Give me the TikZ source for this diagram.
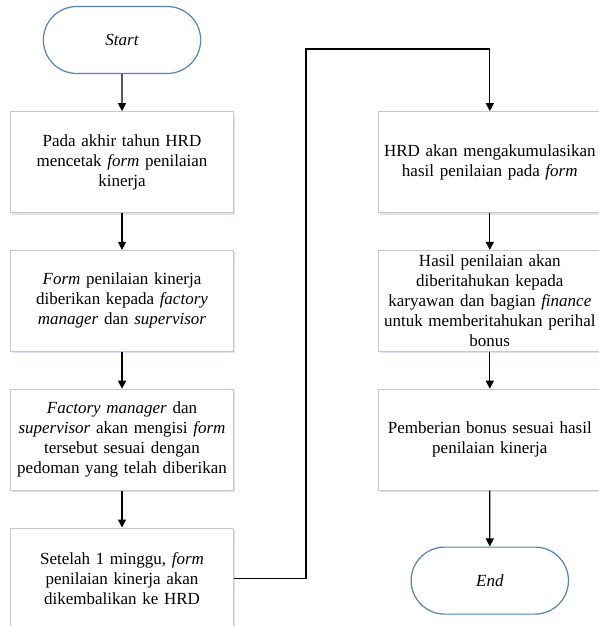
\documentclass[tikz,border=0pt]{standalone}
\usepackage{fontspec}
\setmainfont{Liberation Serif}
\usetikzlibrary{positioning, shapes.misc, arrows.meta, shadows}

\definecolor{termblue}{RGB}{84,130,185}
\definecolor{boxgray}{RGB}{200,200,200}
\definecolor{shadeblue}{RGB}{218,228,242}

\begin{document}
\begin{tikzpicture}[node distance=37pt, >={Triangle[length=8pt,width=8pt]}, line width=1.2pt]

        % Styles
        \tikzstyle{langkah}=[rectangle, draw=boxgray, line width=0.8pt, fill=white, align=center, text width=215pt, minimum width=223pt, minimum height=101pt, inner sep=0pt, font=\fontsize{17}{20}\selectfont, drop shadow={shadow xshift=1.5pt, shadow yshift=-2pt, fill=shadeblue, opacity=1}]
        \tikzstyle{terminal}=[rounded rectangle, draw=termblue, line width=1.2pt, fill=white, minimum width=164pt, minimum height=67pt, font=\fontsize{17}{20}\selectfont\itshape]

        \useasboundingbox (0,0) rectangle (599pt,-626pt);

        % Kolom kiri
        \node[terminal] (start) at (122pt,-40pt) {Start};
        \node[langkah, below=of start] (cetak) {Pada akhir tahun HRD\\ mencetak \emph{form} penilaian\\ kinerja};
        \node[langkah, below=of cetak] (beri) {\emph{Form} penilaian kinerja\\ diberikan kepada \emph{factory}\\ \emph{manager} dan \emph{supervisor}};
        \node[langkah, below=of beri] (isi) {\emph{Factory manager} dan\\ \emph{supervisor} akan mengisi \emph{form}\\ tersebut sesuai dengan\\ pedoman yang telah diberikan};
        \node[langkah, below=of isi] (kembali) {Setelah 1 minggu, \emph{form}\\ penilaian kinerja akan\\ dikembalikan ke HRD};

        % Kolom kanan
        \node[langkah, right=144pt of cetak] (akumulasi) {HRD akan mengakumulasikan\\ hasil penilaian pada \emph{form}};
        \node[langkah, below=of akumulasi] (info) {Hasil penilaian akan\\ diberitahukan kepada\\ karyawan dan bagian \emph{finance}\\ untuk memberitahukan perihal\\ bonus};
        \node[langkah, below=of info] (bonus) {Pemberian bonus sesuai hasil\\ penilaian kinerja};
        \node[terminal, below=56pt of bonus] (end) {End};

        % Panah
        \draw[->] (start) -- (cetak);
        \draw[->] (cetak) -- (beri);
        \draw[->] (beri) -- (isi);
        \draw[->] (isi) -- (kembali);
        \draw[->] (kembali.east) -- ++(72pt,0) |- ([yshift=62pt]akumulasi.north) -- (akumulasi.north);
        \draw[->] (akumulasi) -- (info);
        \draw[->] (info) -- (bonus);
        \draw[->] (bonus) -- (end);

    \end{tikzpicture}
\end{document}
